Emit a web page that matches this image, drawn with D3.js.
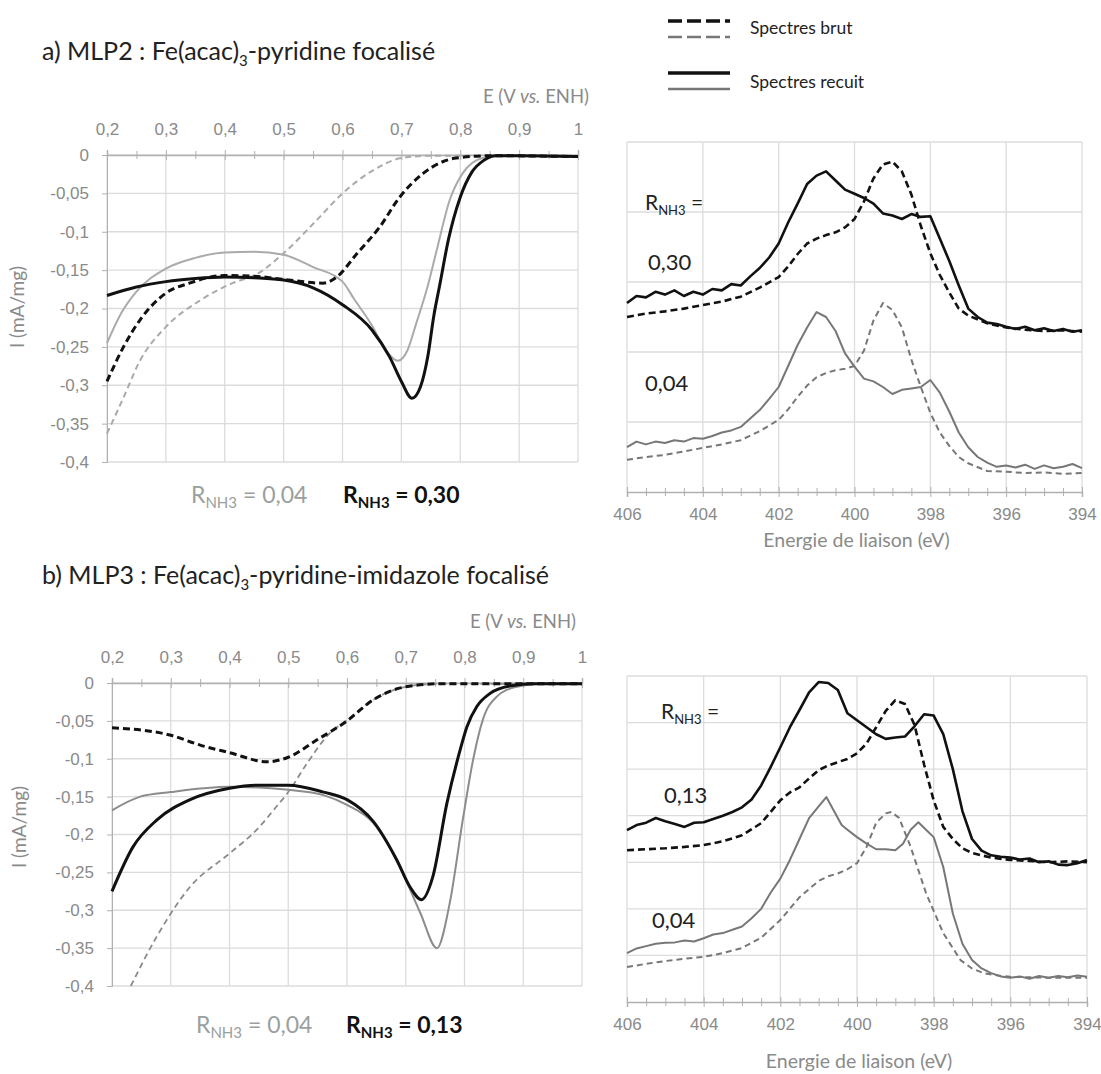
<!DOCTYPE html>
<html><head><meta charset="utf-8">
<script src="https://cdn.jsdelivr.net/npm/d3@7"></script>
<style>body{margin:0;background:#fff} svg{font-family:Lato,"Open Sans",sans-serif}</style>
</head><body>
<svg id="c" width="1101" height="1074"></svg>
<script>
// ---------- tick labels ----------
const cvXTicks = [0.2,0.3,0.4,0.5,0.6,0.7,0.8,0.9,1];
const cvXMinor = [0.25,0.35,0.45,0.55,0.65,0.75,0.85,0.95];
const cvYTicks = [0,-0.05,-0.1,-0.15,-0.2,-0.25,-0.3,-0.35,-0.4];
const xpsTicks = [406,404,402,400,398,396,394];

// ---------- CV panel a (MLP2) [E, I] ----------
const cvA_recuit030 = [[0.2,-0.183],[0.25,-0.172],[0.3,-0.165],[0.35,-0.161],[0.4,-0.159],[0.45,-0.160],[0.5,-0.163],[0.55,-0.173],[0.6,-0.195],[0.65,-0.228],[0.68,-0.263],[0.70,-0.295],[0.718,-0.317],[0.732,-0.303],[0.745,-0.262],[0.755,-0.21],[0.765,-0.17],[0.78,-0.11],[0.80,-0.055],[0.82,-0.022],[0.84,-0.007],[0.86,-0.001],[0.9,-0.001],[1.0,-0.002]];
const cvA_recuit004 = [[0.2,-0.245],[0.225,-0.205],[0.25,-0.178],[0.3,-0.148],[0.35,-0.134],[0.4,-0.127],[0.45,-0.126],[0.5,-0.130],[0.55,-0.146],[0.6,-0.165],[0.62,-0.188],[0.65,-0.222],[0.67,-0.250],[0.694,-0.268],[0.71,-0.255],[0.725,-0.220],[0.745,-0.170],[0.76,-0.124],[0.782,-0.059],[0.804,-0.024],[0.838,-0.004],[0.87,-0.001],[1.0,-0.002]];
const cvA_brut030 = [[0.2,-0.295],[0.228,-0.25],[0.256,-0.215],[0.3,-0.18],[0.34,-0.167],[0.4,-0.157],[0.45,-0.158],[0.5,-0.162],[0.567,-0.167],[0.59,-0.159],[0.625,-0.128],[0.663,-0.094],[0.697,-0.055],[0.737,-0.024],[0.793,-0.004],[0.85,-0.001],[1.0,-0.002]];
const cvA_brut004 = [[0.2,-0.363],[0.228,-0.316],[0.256,-0.268],[0.3,-0.224],[0.357,-0.19],[0.413,-0.167],[0.455,-0.155],[0.5,-0.128],[0.556,-0.085],[0.6,-0.05],[0.652,-0.02],[0.7,-0.004],[0.75,-0.001],[1.0,-0.001]];

// ---------- CV panel b (MLP3) [E, I] ----------
const cvB_recuit013 = [[0.2,-0.275],[0.236,-0.216],[0.276,-0.181],[0.333,-0.154],[0.4,-0.139],[0.446,-0.135],[0.5,-0.135],[0.56,-0.144],[0.6,-0.154],[0.645,-0.183],[0.685,-0.234],[0.707,-0.269],[0.727,-0.286],[0.746,-0.256],[0.77,-0.159],[0.792,-0.09],[0.804,-0.058],[0.821,-0.031],[0.843,-0.014],[0.877,-0.004],[0.92,-0.001],[1.0,-0.001]];
const cvB_recuit004 = [[0.2,-0.168],[0.248,-0.150],[0.3,-0.144],[0.4,-0.137],[0.5,-0.141],[0.56,-0.148],[0.6,-0.161],[0.645,-0.185],[0.69,-0.243],[0.725,-0.304],[0.753,-0.350],[0.775,-0.290],[0.797,-0.181],[0.815,-0.10],[0.831,-0.049],[0.855,-0.018],[0.889,-0.005],[0.93,-0.001],[1.0,-0.001]];
const cvB_brut013 = [[0.2,-0.059],[0.3,-0.069],[0.35,-0.082],[0.4,-0.092],[0.464,-0.104],[0.5,-0.098],[0.549,-0.075],[0.6,-0.050],[0.645,-0.022],[0.7,-0.005],[0.76,-0.001],[1.0,-0.001]];
const cvB_brut004 = [[0.232,-0.40],[0.276,-0.335],[0.333,-0.269],[0.4,-0.225],[0.446,-0.194],[0.48,-0.163],[0.5,-0.144],[0.532,-0.106],[0.571,-0.066],[0.6,-0.049],[0.645,-0.022],[0.7,-0.005],[0.76,-0.001],[1.0,-0.001]];

// ---------- XPS panel a [BE, intensity a.u.] ----------
const xpsA_recuit030 = [[406,2.70],[405.75,2.80],[405.5,2.78],[405.25,2.86],[405,2.82],[404.75,2.88],[404.5,2.80],[404.25,2.86],[404,2.82],[403.75,2.90],[403.5,2.88],[403.25,2.97],[403,2.95],[402.75,3.08],[402.5,3.20],[402.25,3.35],[402,3.55],[401.75,3.85],[401.5,4.12],[401.25,4.40],[401,4.52],[400.75,4.58],[400.5,4.45],[400.25,4.32],[400,4.26],[399.75,4.20],[399.5,4.12],[399.25,3.98],[399,3.95],[398.75,3.90],[398.5,3.97],[398.25,3.93],[398,3.94],[397.75,3.62],[397.5,3.30],[397.25,2.95],[397,2.62],[396.75,2.50],[396.5,2.42],[396.25,2.40],[396,2.36],[395.75,2.33],[395.5,2.36],[395.25,2.31],[395,2.34],[394.75,2.30],[394.5,2.33],[394.25,2.29],[394,2.31]];
const xpsA_brut030 = [[406,2.50],[405.5,2.55],[405,2.58],[404.5,2.62],[404,2.67],[403.5,2.72],[403,2.79],[402.5,2.92],[402,3.07],[401.75,3.22],[401.5,3.40],[401.25,3.55],[401,3.62],[400.75,3.67],[400.5,3.71],[400.25,3.78],[400,3.90],[399.75,4.15],[399.5,4.48],[399.25,4.68],[399,4.72],[398.75,4.58],[398.5,4.25],[398.25,3.80],[398,3.41],[397.75,3.10],[397.5,2.85],[397.25,2.62],[397,2.52],[396.5,2.41],[396,2.35],[395.5,2.32],[395,2.30],[394.5,2.31],[394,2.29]];
const xpsA_recuit004 = [[406,0.64],[405.75,0.72],[405.5,0.68],[405.25,0.72],[405,0.70],[404.75,0.74],[404.5,0.72],[404.25,0.77],[404,0.76],[403.75,0.80],[403.5,0.85],[403.25,0.88],[403,0.93],[402.75,1.05],[402.5,1.17],[402.25,1.33],[402,1.50],[401.75,1.80],[401.5,2.10],[401.25,2.35],[401,2.57],[400.75,2.50],[400.5,2.30],[400.25,1.98],[400,1.79],[399.75,1.62],[399.5,1.58],[399.25,1.50],[399,1.40],[398.75,1.46],[398.5,1.48],[398.25,1.50],[398,1.60],[397.75,1.42],[397.5,1.15],[397.25,0.85],[397,0.64],[396.75,0.50],[396.5,0.42],[396.25,0.36],[396,0.38],[395.75,0.35],[395.5,0.39],[395.25,0.33],[395,0.38],[394.75,0.34],[394.5,0.36],[394.25,0.40],[394,0.34]];
const xpsA_brut004 = [[406,0.46],[405.5,0.50],[405,0.53],[404.5,0.58],[404,0.63],[403.5,0.68],[403,0.74],[402.5,0.87],[402,1.03],[401.75,1.18],[401.5,1.36],[401.25,1.52],[401,1.64],[400.75,1.70],[400.5,1.74],[400.25,1.76],[400,1.80],[399.75,2.02],[399.5,2.45],[399.25,2.70],[399,2.60],[398.75,2.35],[398.5,1.89],[398.25,1.50],[398,1.13],[397.75,0.85],[397.5,0.66],[397.25,0.50],[397,0.41],[396.5,0.30],[396,0.29],[395.5,0.27],[395,0.28],[394.5,0.26],[394,0.27]];

// ---------- XPS panel b [BE, intensity a.u.] ----------
const xpsB_recuit013 = [[406,3.69],[405.75,3.80],[405.5,3.85],[405.25,3.95],[405,3.88],[404.75,3.82],[404.5,3.76],[404.25,3.85],[404,3.86],[403.75,3.93],[403.5,4.00],[403.25,4.08],[403,4.18],[402.75,4.35],[402.5,4.65],[402.25,5.05],[402,5.47],[401.75,5.90],[401.5,6.27],[401.25,6.65],[401,6.87],[400.75,6.85],[400.5,6.70],[400.25,6.20],[400,6.05],[399.75,5.90],[399.5,5.75],[399.25,5.65],[399,5.68],[398.75,5.70],[398.5,5.92],[398.25,6.18],[398,6.15],[397.75,5.75],[397.5,5.00],[397.25,4.10],[397,3.50],[396.75,3.25],[396.5,3.15],[396.25,3.12],[396,3.10],[395.75,3.06],[395.5,3.08],[395.25,3.00],[395,3.02],[394.75,2.95],[394.5,2.94],[394.25,2.98],[394,3.05]];
const xpsB_brut013 = [[406,3.26],[405.5,3.28],[405,3.30],[404.5,3.33],[404,3.37],[403.5,3.45],[403,3.58],[402.5,3.84],[402,4.33],[401.75,4.50],[401.5,4.61],[401.25,4.80],[401,4.98],[400.75,5.08],[400.5,5.15],[400.25,5.22],[400,5.34],[399.75,5.55],[399.5,5.90],[399.25,6.25],[399,6.48],[398.75,6.40],[398.5,5.95],[398.25,5.10],[398,4.33],[397.75,3.76],[397.5,3.50],[397.25,3.30],[397,3.20],[396.5,3.10],[396,3.05],[395.5,3.03],[395,3.00],[394.5,3.02],[394,3.00]];
const xpsB_recuit004 = [[406,1.05],[405.75,1.15],[405.5,1.20],[405.25,1.25],[405,1.27],[404.75,1.28],[404.5,1.32],[404.25,1.30],[404,1.37],[403.75,1.45],[403.5,1.48],[403.25,1.55],[403,1.62],[402.75,1.80],[402.5,2.00],[402.25,2.35],[402,2.65],[401.75,3.05],[401.5,3.50],[401.25,3.95],[401,4.20],[400.8,4.40],[400.6,4.10],[400.4,3.80],[400.25,3.70],[400,3.54],[399.75,3.40],[399.5,3.28],[399.25,3.28],[399,3.26],[398.8,3.40],[398.6,3.70],[398.4,3.86],[398.2,3.70],[398,3.54],[397.75,2.90],[397.5,1.90],[397.25,1.25],[397,0.90],[396.75,0.72],[396.5,0.62],[396.25,0.55],[396,0.52],[395.75,0.55],[395.5,0.50],[395.25,0.56],[395,0.52],[394.75,0.56],[394.5,0.53],[394.25,0.57],[394,0.54]];
const xpsB_brut004 = [[406,0.75],[405.5,0.82],[405,0.88],[404.5,0.93],[404,0.97],[403.5,1.05],[403,1.16],[402.5,1.38],[402,1.76],[401.5,2.25],[401,2.60],[400.75,2.70],[400.5,2.76],[400.25,2.85],[400,2.98],[399.75,3.33],[399.5,3.85],[399.25,4.05],[399.1,4.08],[398.9,3.95],[398.6,3.33],[398.2,2.34],[397.75,1.48],[397.3,0.90],[397,0.72],[396.7,0.62],[396.25,0.56],[396,0.54],[395,0.52],[394,0.52]];

const svg = d3.select("#c");
const fmt = d => String(d).replace(".", ",");
const GRID = "#dcdcdc", AX = "#b0b0b0", TXT = "#8a8a8a";

function subText(g, x, y, parts, attrs) {
  const t = g.append("text").attr("x", x).attr("y", y);
  Object.entries(attrs || {}).forEach(([k, v]) => t.attr(k, v));
  parts.forEach(p => {
    const s = t.append("tspan").text(p.t);
    if (p.sub) s.attr("font-size", p.fs).attr("dy", p.dy);
    if (p.back) s.attr("dy", p.back);
  });
  return t;
}

function drawCV(o) {
  const g = svg.append("g");
  const x = d3.scaleLinear().domain([0.2, 1]).range([o.x0, o.x1]);
  const y = d3.scaleLinear().domain([-0.4, 0]).range([o.yb, o.y0]);
  g.selectAll(".hg").data(cvYTicks).join("line").attr("x1", o.x0).attr("x2", o.x1)
    .attr("y1", d => y(d)).attr("y2", d => y(d)).attr("stroke", GRID).attr("stroke-width", 1.3);
  g.selectAll(".vg").data(cvXTicks).join("line").attr("y1", y(0)).attr("y2", y(-0.4))
    .attr("x1", d => x(d)).attr("x2", d => x(d)).attr("stroke", GRID).attr("stroke-width", 1.3);
  const ya = g.append("g").attr("transform", `translate(${o.x0},0)`)
    .call(d3.axisLeft(y).tickValues(cvYTicks).tickFormat(fmt).tickSize(5).tickPadding(13));
  ya.select(".domain").attr("stroke", AX);
  ya.selectAll(".tick line").attr("stroke", AX);
  ya.selectAll("text").attr("fill", TXT).attr("font-size", 17);
  const xa = g.append("g").attr("transform", `translate(0,${y(0)})`)
    .call(d3.axisTop(x).tickValues(cvXTicks).tickFormat(fmt).tickSize(5).tickPadding(15));
  xa.select(".domain").attr("stroke", AX).attr("stroke-width", 1.5);
  xa.selectAll(".tick line").attr("stroke", AX).attr("y1", 5).attr("y2", -5);
  xa.selectAll("text").attr("fill", TXT).attr("font-size", 17);
  const xm = g.append("g").attr("transform", `translate(0,${y(0)})`)
    .call(d3.axisTop(x).tickValues(cvXMinor).tickFormat("").tickSize(4));
  xm.select(".domain").remove();
  xm.selectAll(".tick line").attr("stroke", AX).attr("y1", 4).attr("y2", -4);
  const et = g.append("text").attr("x", o.etX).attr("y", o.etY).attr("text-anchor", "end")
    .attr("fill", TXT).attr("font-size", 18.5);
  et.append("tspan").text("E (V ");
  et.append("tspan").text("vs.").attr("font-style", "italic");
  et.append("tspan").text(" ENH)");
  g.append("text").attr("transform", `translate(${o.itX},${o.itY}) rotate(-90)`).attr("text-anchor", "middle")
    .attr("fill", TXT).attr("font-size", 19).text("I (mA/mg)");
  const line = d3.line().x(d => x(d[0])).y(d => y(d[1])).curve(d3.curveMonotoneX);
  o.series.forEach(s => {
    g.append("path").datum(s.data).attr("d", line).attr("fill", "none")
      .attr("stroke", s.color).attr("stroke-width", s.w).attr("stroke-dasharray", s.dash || null)
      .attr("stroke-linejoin", "round");
  });
  subText(g, o.rX1, o.rY, [{t:"R"},{t:"NH3",sub:1,fs:15,dy:5},{t:" = " + o.rGray, back:-5}],
    {fill:"#9aa0a0","font-size":23});
  subText(g, o.rX2, o.rY, [{t:"R"},{t:"NH3",sub:1,fs:15,dy:5},{t:" = " + o.rBlack, back:-5}],
    {fill:"#111","font-size":23,"font-weight":"bold"});
}

function drawXPS(o) {
  const g = svg.append("g");
  const x = d3.scaleLinear().domain([406, 394]).range([o.x0, o.x1]);
  const y = d3.scaleLinear().domain([0, o.ymax]).range([o.yb, o.y0]);
  g.selectAll(".hg").data(d3.range(1, o.ymax + 1)).join("line").attr("x1", o.x0).attr("x2", o.x1)
    .attr("y1", d => y(d)).attr("y2", d => y(d)).attr("stroke", GRID).attr("stroke-width", 1.3);
  g.selectAll(".vg").data(xpsTicks).join("line").attr("y1", o.y0).attr("y2", o.yb)
    .attr("x1", d => x(d)).attr("x2", d => x(d)).attr("stroke", GRID).attr("stroke-width", 1.3);
  const xa = g.append("g").attr("transform", `translate(0,${o.yb})`)
    .call(d3.axisBottom(x).tickValues(xpsTicks).tickFormat(d => d).tickSize(5).tickPadding(11));
  xa.select(".domain").attr("stroke", AX).attr("stroke-width", 1.5);
  xa.selectAll(".tick line").attr("stroke", AX).attr("y1", -5).attr("y2", 5);
  xa.selectAll("text").attr("fill", TXT).attr("font-size", 17);
  const minor = d3.range(405.5, 394, -0.5).filter(v => v % 2 !== 0);
  const xm = g.append("g").attr("transform", `translate(0,${o.yb})`)
    .call(d3.axisBottom(x).tickValues(minor).tickFormat("").tickSize(4));
  xm.select(".domain").remove();
  xm.selectAll(".tick line").attr("stroke", AX).attr("y1", -4).attr("y2", 4);
  g.append("text").attr("x", (o.x0 + o.x1) / 2 + 2).attr("y", o.titleY).attr("text-anchor", "middle")
    .attr("fill", TXT).attr("font-size", 19.5).text("Energie de liaison (eV)");
  const line = d3.line().x(d => x(d[0])).y(d => y(d[1])).curve(d3.curveLinear);
  o.series.forEach(s => {
    g.append("path").datum(s.data).attr("d", line).attr("fill", "none")
      .attr("stroke", s.color).attr("stroke-width", s.w).attr("stroke-dasharray", s.dash || null)
      .attr("stroke-linejoin", "round");
  });
  subText(g, o.lx, o.ry, [{t:"R"},{t:"NH3",sub:1,fs:13,dy:5},{t:" =", back:-5}], {fill:"#222","font-size":21});
  g.append("text").attr("x", o.lx + 3).attr("y", o.hy).attr("fill", "#222").attr("font-size", 22).text(o.hi);
  g.append("text").attr("x", o.lx2).attr("y", o.ly).attr("fill", "#222").attr("font-size", 22).text(o.lo);
}

// titles
subText(svg, 42, 60, [{t:"a) MLP2 : Fe(acac)"},{t:"3",sub:1,fs:15,dy:6},{t:"-pyridine focalisé",back:-6}],
  {fill:"#222","font-size":25});
subText(svg, 42, 584, [{t:"b) MLP3 : Fe(acac)"},{t:"3",sub:1,fs:15,dy:6},{t:"-pyridine-imidazole focalisé",back:-6}],
  {fill:"#222","font-size":25});

drawCV({x0:107, x1:578, y0:155, yb:462, etX:589, etY:103, itX:24, itY:307, rX1:191, rX2:343, rY:503, rGray:"0,04", rBlack:"0,30",
  series:[
    {data:cvA_brut004, color:"#aaaaaa", w:2, dash:"6,4"},
    {data:cvA_recuit004, color:"#aaaaaa", w:2},
    {data:cvA_brut030, color:"#111", w:3, dash:"7,4"},
    {data:cvA_recuit030, color:"#111", w:3}
  ]});
drawCV({x0:112, x1:582, y0:683, yb:986, etX:576, etY:628, itX:26, itY:827, rX1:196, rX2:346, rY:1033, rGray:"0,04", rBlack:"0,13",
  series:[
    {data:cvB_brut004, color:"#8c8c8c", w:1.8, dash:"6,4"},
    {data:cvB_recuit004, color:"#8c8c8c", w:2},
    {data:cvB_brut013, color:"#111", w:3, dash:"7,4"},
    {data:cvB_recuit013, color:"#111", w:3}
  ]});

drawXPS({x0:627, x1:1082, y0:142, yb:492, ymax:5, titleY:547, lx:645, ry:210, hy:270, hi:"0,30", lx2:645, ly:391, lo:"0,04",
  series:[
    {data:xpsA_brut004, color:"#777", w:2, dash:"6,4"},
    {data:xpsA_recuit004, color:"#777", w:2},
    {data:xpsA_brut030, color:"#111", w:2.6, dash:"7,4"},
    {data:xpsA_recuit030, color:"#111", w:2.6}
  ]});
drawXPS({x0:627, x1:1087, y0:676, yb:1002, ymax:7, titleY:1068, lx:661, ry:719, hy:803, hi:"0,13", lx2:652, ly:928, lo:"0,04",
  series:[
    {data:xpsB_brut004, color:"#777", w:2, dash:"6,4"},
    {data:xpsB_recuit004, color:"#777", w:2},
    {data:xpsB_brut013, color:"#111", w:2.6, dash:"7,4"},
    {data:xpsB_recuit013, color:"#111", w:2.6}
  ]});

// legend
const lg = svg.append("g");
const legendRows = [
  {y1:21, y2:37, ty:34, dash:"14,5", label:"Spectres brut"},
  {y1:73, y2:89, ty:88, dash:null, label:"Spectres recuit"}
];
legendRows.forEach(r => {
  lg.append("line").attr("x1", 668).attr("x2", 730).attr("y1", r.y1).attr("y2", r.y1)
    .attr("stroke", "#111").attr("stroke-width", 3.5).attr("stroke-dasharray", r.dash);
  lg.append("line").attr("x1", 668).attr("x2", 730).attr("y1", r.y2).attr("y2", r.y2)
    .attr("stroke", "#777").attr("stroke-width", 2.5).attr("stroke-dasharray", r.dash);
  lg.append("text").attr("x", 750).attr("y", r.ty).attr("fill", "#222").attr("font-size", 17.5).text(r.label);
});
</script>
</body></html>
